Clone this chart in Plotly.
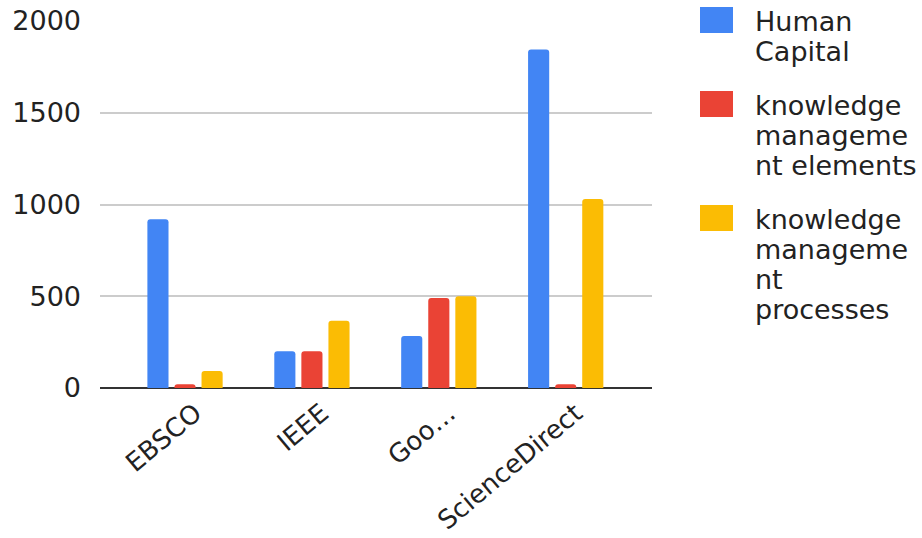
import plotly.graph_objects as go

categories = ["EBSCO", "IEEE", "Goo…", "ScienceDirect"]
series_names = ["Human Capital",
                "knowledge management elements",
                "knowledge management processes"]
legend_lines = [["Human", "Capital"],
                ["knowledge", "manageme", "nt elements"],
                ["knowledge", "manageme", "nt", "processes"]]
human_capital = [920, 200, 283, 1845]
km_elements = [20, 200, 490, 20]
km_processes = [92, 366, 500, 1030]
colors = ["#4285F4", "#EA4335", "#FBBC04"]
y_ticks = [0, 500, 1000, 1500, 2000]

W, H = 922, 538
L, R, T, B = 100, 652, 21, 388
FONT = "DejaVu Sans, Arial, sans-serif"
FS = 27

fig = go.Figure()
for name, vals, c in zip(series_names, [human_capital, km_elements, km_processes], colors):
    fig.add_trace(go.Bar(x=categories, y=vals, name=name, marker=dict(color=c, line=dict(width=0)),
                         showlegend=False))

def px(xp):
    return (xp - L) / (R - L)

def py(yp):
    return (B - yp) / (B - T)

# manual legend
shapes = []
annotations = []
top = 7
line_h = 30
for lines, c in zip(legend_lines, colors):
    shapes.append(dict(type="rect", xref="paper", yref="paper",
                       x0=px(700), x1=px(733), y0=py(top + 26), y1=py(top),
                       fillcolor=c, line=dict(width=0), layer="above"))
    base = top + 25
    for i, ln in enumerate(lines):
        annotations.append(dict(xref="paper", yref="paper", x=px(753), y=py(base + i * line_h - 11),
                                xanchor="left", yanchor="middle", align="left", showarrow=False,
                                text=ln, font=dict(size=FS, color="#222", family=FONT)))
    top += len(lines) * line_h + 24

fig.update_layout(
    width=W, height=H,
    margin=dict(l=L, r=W - R, t=T, b=H - B, pad=0, autoexpand=False),
    paper_bgcolor="white", plot_bgcolor="white",
    barmode="group", bargap=0.36, bargroupgap=0.22, barcornerradius=3,
    font=dict(family=FONT, size=FS, color="#222"),
    shapes=shapes, annotations=annotations,
    xaxis=dict(range=[-0.67, 3.68], tickangle=-40, showgrid=False, showline=False, automargin=False,
               ticks="", tickfont=dict(size=26, color="#222"), ticklabelstandoff=4,
               ticklabelshift=10, fixedrange=True),
    yaxis=dict(range=[0, 2000], tickvals=y_ticks, showgrid=True, gridcolor="#CCCCCC", automargin=False,
               gridwidth=1.5, zeroline=True, zerolinecolor="#333333", zerolinewidth=2,
               ticks="", ticklabelstandoff=18, tickfont=dict(size=FS, color="#222"),
               showline=False, fixedrange=True),
)

fig.write_html("out.html")
